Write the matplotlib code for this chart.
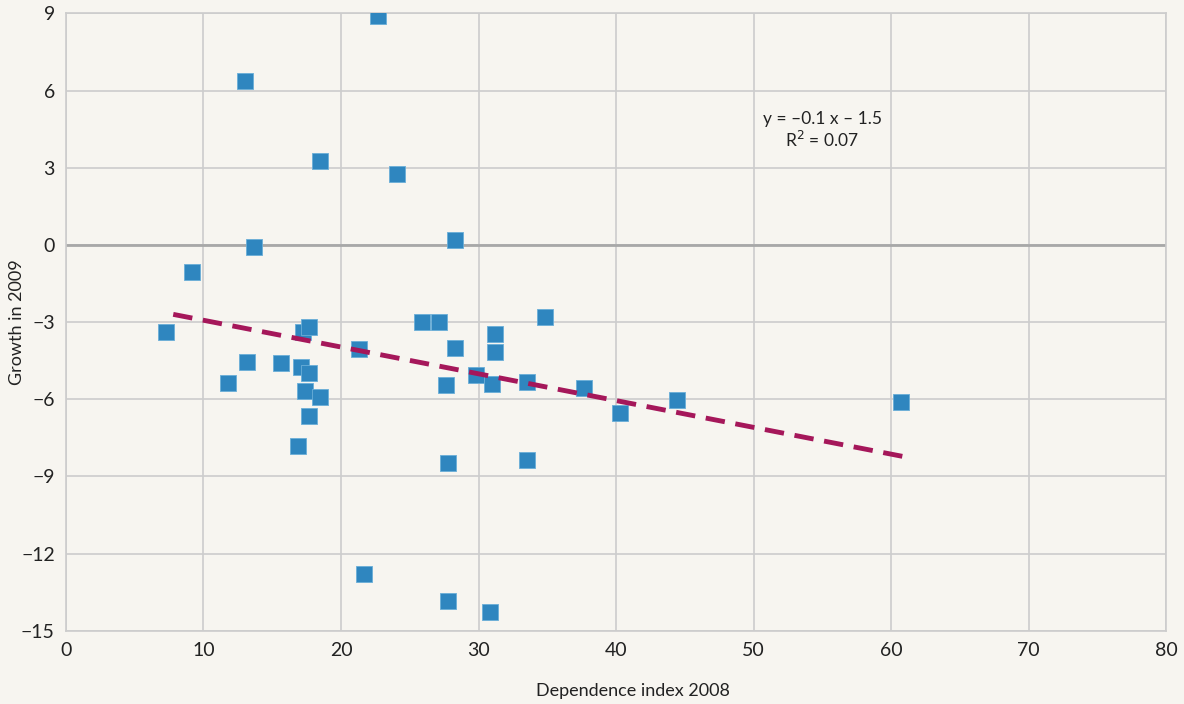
import matplotlib.pyplot as plt
import numpy as np

plt.rcParams['font.family'] = ['Lato', 'DejaVu Sans']

# dependence index 2008 vs growth in 2009
dependence = [22.7, 13.0, 18.5, 24.1, 28.3, 13.7, 9.2, 7.3, 11.8, 13.2,
              15.6, 17.2, 17.7, 17.1, 17.7, 17.4, 18.5, 17.7, 16.9, 21.3,
              25.9, 27.1, 27.6, 28.3, 27.8, 29.8, 31.0, 31.2, 31.2, 33.5,
              33.5, 34.8, 37.7, 40.3, 44.4, 60.7, 21.7, 27.8, 30.8]
growth = [8.88, 6.36, 3.25, 2.74, 0.2, -0.1, -1.05, -3.4, -5.38, -4.56,
          -4.6, -3.4, -3.2, -4.76, -4.99, -5.69, -5.92, -6.66, -7.83, -4.05,
          -2.98, -2.98, -5.46, -4.02, -8.49, -5.07, -5.42, -3.45, -4.18, -5.34,
          -8.37, -2.81, -5.57, -6.55, -6.04, -6.12, -12.8, -13.85, -14.28]

# linear trend as drawn in the original
trend_x = [7.8, 61.5]
trend_y = [-2.70, -8.29]

bg = '#f7f5f0'
fig, ax = plt.subplots(figsize=(11.84, 7.04), dpi=100)
fig.patch.set_facecolor(bg)
ax.set_facecolor(bg)
fig.subplots_adjust(left=0.0557, right=0.985, top=0.981, bottom=0.104)

ax.grid(True, color='#cccccc', linewidth=1.2)
ax.set_axisbelow(True)
for s in ax.spines.values():
    s.set_color('#cccccc')
    s.set_linewidth(1.2)
ax.axhline(0, color='#a8a8a8', linewidth=2, zorder=1)

ax.scatter(dependence, growth, marker='s', s=130, color='#2f86bf',
           edgecolors='#6aaed8', linewidths=0.6, zorder=3)
ax.plot(trend_x, trend_y, color='#a5175a', linewidth=3.5,
        linestyle=(0, (4, 2.2)), zorder=4)

ax.set_xlim(0, 80)
ax.set_ylim(-15, 9)
ax.set_xticks(np.arange(0, 81, 10))
ax.set_yticks(np.arange(-15, 10, 3))
ax.set_yticklabels([str(v).replace('-', '\u2212') for v in range(-15, 10, 3)])
ax.tick_params(length=0, labelsize=14, colors='#222222', pad=8)

ax.set_xlabel('Dependence index 2008', fontsize=13, color='#222222')
ax.xaxis.set_label_coords(0.515, -0.085)
ax.set_ylabel('Growth in 2009', fontsize=13, color='#222222')
ax.yaxis.set_label_coords(-0.037, 0.5)

ax.text(55.0, 4.45, 'y = \u20130.1 x \u2013 1.5\nR$^2$ = 0.07', ha='center',
        va='center', fontsize=12.5, color='#222222', linespacing=1.2)

plt.savefig('out.png', dpi=100, facecolor=bg)
